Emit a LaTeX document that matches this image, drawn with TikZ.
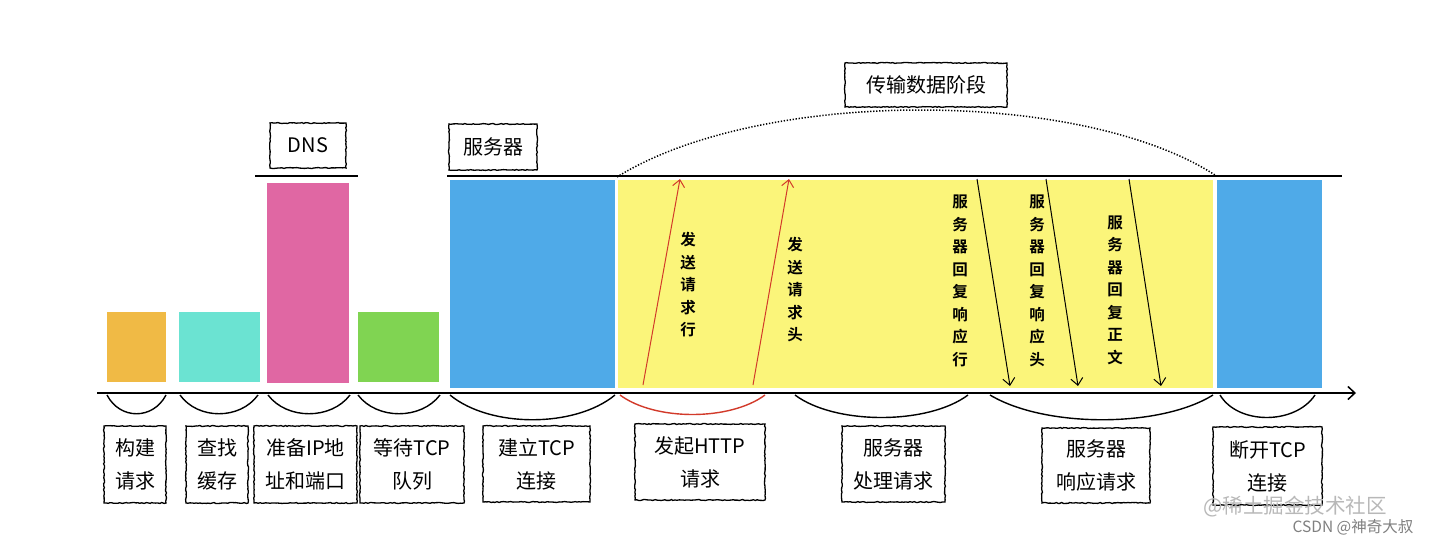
\documentclass[tikz,border=0pt]{standalone}
\usepackage{fontspec}
\setmainfont{Noto Sans CJK SC}
\newfontfamily\cjk{Noto Sans CJK SC}
\newfontfamily\cjkb{Noto Sans CJK SC Bold}
\usetikzlibrary{arrows.meta,decorations.pathmorphing}
\definecolor{cOrange}{HTML}{F0BA45}
\definecolor{cCyan}{HTML}{6BE3D2}
\definecolor{cPink}{HTML}{E067A3}
\definecolor{cGreen}{HTML}{80D452}
\definecolor{cBlue}{HTML}{4FAAE8}
\definecolor{cYellow}{HTML}{FBF57A}
\definecolor{cRed}{HTML}{D23A2A}
\definecolor{cWm}{HTML}{B8B8B8}
\tikzset{
  bar/.style={draw=none},
  lbl/.style={draw, line width=1.3pt, decorate, decoration={random steps,segment length=2pt,amplitude=0.5pt}, inner sep=0pt, font=\cjk\fontsize{20}{33}\selectfont, align=center},
  hang/.style={line width=1.4pt},
  vtext/.style={font=\cjkb\fontsize{15.5}{22.5}\selectfont, align=center, inner sep=0pt},
  uparr/.style={cRed, line width=1pt, -{Straight Barb[length=7pt,width=12pt]}},
  dnarr/.style={black, line width=1pt, -{Straight Barb[length=7pt,width=12pt]}},
}
\begin{document}
\begin{tikzpicture}[x=1pt,y=-1pt]
\fill[white] (0,0) rectangle (1438,546);
\useasboundingbox (0,0) rectangle (1438,546);
% bars
\fill[cOrange] (107,312) rectangle (166,382);
\fill[cCyan] (179,312) rectangle (260,382);
\fill[cPink] (267,183) rectangle (349,383);
\fill[cGreen] (358,312) rectangle (439,382);
\fill[cBlue] (450,180) rectangle (615,388);
\fill[cYellow] (618,180) rectangle (1213,388);
\fill[cBlue] (1217,180) rectangle (1322,388);
% top lines
\coordinate (dnsL) at (255,176); \coordinate (dnsR) at (358,176);
\draw[line width=1.3pt] (dnsL) -- (dnsR);
\coordinate (topL) at (447,176); \coordinate (topR) at (1342,176);
\draw[line width=1.3pt] (topL) -- (topR);
% axis
\coordinate (axL) at (97,393); \coordinate (axR) at (1356,393);
\draw[line width=1.5pt, -{Straight Barb[length=7pt,width=13pt]}] (axL) -- (axR);
% hanging arcs
\coordinate (h1a) at (107,395); \coordinate (h1b) at (166,395);
\draw[hang] (h1a) .. controls (120,420) and (153,420) .. (h1b);
\coordinate (h2a) at (180,395); \coordinate (h2b) at (258,395);
\draw[hang] (h2a) .. controls (198,420) and (240,420) .. (h2b);
\coordinate (h3a) at (268,395); \coordinate (h3b) at (350,395);
\draw[hang] (h3a) .. controls (287,420) and (331,420) .. (h3b);
\coordinate (h4a) at (358,395); \coordinate (h4b) at (440,395);
\draw[hang] (h4a) .. controls (377,420) and (421,420) .. (h4b);
\coordinate (h5a) at (450,395); \coordinate (h5b) at (615,395);
\draw[hang] (h5a) .. controls (490,428) and (575,428) .. (h5b);
\coordinate (h6a) at (620,395); \coordinate (h6b) at (765,395);
\draw[hang, cRed] (h6a) .. controls (655,421) and (730,421) .. (h6b);
\coordinate (h7a) at (795,395); \coordinate (h7b) at (968,395);
\draw[hang] (h7a) .. controls (835,425) and (928,425) .. (h7b);
\coordinate (h8a) at (990,395); \coordinate (h8b) at (1213,395);
\draw[hang] (h8a) .. controls (1045,428) and (1160,428) .. (h8b);
\coordinate (h9a) at (1220,395); \coordinate (h9b) at (1315,395);
\draw[hang] (h9a) .. controls (1238,425) and (1295,425) .. (h9b);
% bottom labels
\node[lbl, minimum width=62pt, minimum height=77pt] (l1) at (135,464.5) {构建\\请求};
\node[lbl, minimum width=62pt, minimum height=77pt] (l2) at (217,464.5) {查找\\缓存};
\node[lbl, minimum width=103pt, minimum height=77pt] (l3) at (305.5,464.5) {准备IP地\\址和端口};
\node[lbl, minimum width=104pt, minimum height=77pt] (l4) at (412,464.5) {等待TCP\\队列};
\node[lbl, minimum width=107pt, minimum height=76pt] (l5) at (536.5,464) {建立TCP\\连接};
\node[lbl, minimum width=130pt, minimum height=76pt] (l6) at (700,462) {发起HTTP\\请求};
\node[lbl, minimum width=103pt, minimum height=76pt] (l7) at (893.5,464) {服务器\\处理请求};
\node[lbl, minimum width=108pt, minimum height=75pt] (l8) at (1096,465.5) {服务器\\响应请求};
\node[lbl, minimum width=109pt, minimum height=78pt] (l9) at (1267.5,466) {断开TCP\\连接};
% top labels
\node[lbl, minimum width=76pt, minimum height=45pt] (dns) at (308,145.5) {DNS};
\node[lbl, minimum width=88pt, minimum height=46pt] (srv) at (493,147) {服务器};
\node[lbl, minimum width=162pt, minimum height=44pt] (tx) at (926,85) {传输数据阶段};
% dotted arc
\coordinate (dA) at (617,177); \coordinate (dB) at (1215,175);
\draw[line width=1.5pt, dash pattern=on 1.3pt off 1.7pt] (dA) .. controls (760,88) and (1080,88) .. (dB);
% up arrows
\coordinate (u1a) at (643,385); \coordinate (u1b) at (680,179);
\draw[uparr] (u1a) -- (u1b);
\coordinate (u2a) at (753,385); \coordinate (u2b) at (789,179);
\draw[uparr] (u2a) -- (u2b);
\node[vtext] (t1) at (688,285) {发\\送\\请\\求\\行};
\node[vtext] (t2) at (795,290) {发\\送\\请\\求\\头};
% down arrows
\coordinate (d1a) at (977,179); \coordinate (d1b) at (1010,386);
\draw[dnarr] (d1a) -- (d1b);
\coordinate (d2a) at (1046,179); \coordinate (d2b) at (1078,386);
\draw[dnarr] (d2a) -- (d2b);
\coordinate (d3a) at (1129,179); \coordinate (d3b) at (1161,386);
\draw[dnarr] (d3a) -- (d3b);
\node[vtext] (t3) at (960,281) {服\\务\\器\\回\\复\\响\\应\\行};
\node[vtext] (t4) at (1037,281) {服\\务\\器\\回\\复\\响\\应\\头};
\node[vtext] (t5) at (1115,290) {服\\务\\器\\回\\复\\正\\文};
% watermarks
\node[text=cWm, font=\cjk\fontsize{20.5}{20.5}\selectfont, inner sep=0pt] (wm1) at (1295,507) {@稀土掘金技术社区};
\node[text=gray, font=\cjk\fontsize{15.5}{15.5}\selectfont, inner sep=0pt] (wm2) at (1353,527) {CSDN @神奇大叔};
\end{tikzpicture}
\end{document}
